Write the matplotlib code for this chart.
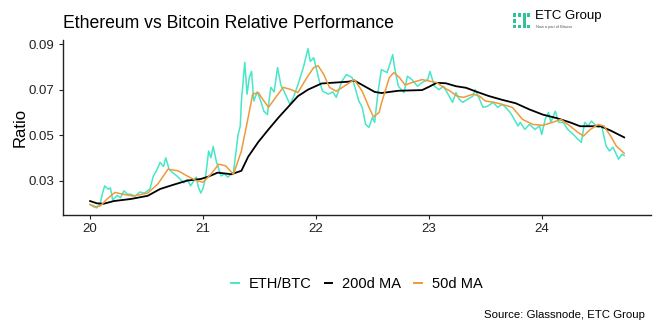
import matplotlib
matplotlib.use("Agg")
import matplotlib.pyplot as plt
from matplotlib.patches import Rectangle

# ETH/BTC ratio (x = year, 20 = 2020)
eth_x = [20.00, 20.03, 20.06, 20.09, 20.11, 20.13, 20.16, 20.18, 20.20, 20.24, 20.27, 20.30,
         20.33, 20.36, 20.40, 20.44, 20.48, 20.53, 20.56, 20.59, 20.62, 20.65, 20.67, 20.70,
         20.73, 20.77, 20.80, 20.83, 20.86, 20.89, 20.92, 20.94, 20.96, 20.98, 21.00, 21.02,
         21.05, 21.07, 21.09, 21.12, 21.16, 21.19, 21.22, 21.27, 21.29, 21.31, 21.33, 21.34,
         21.37, 21.39, 21.41, 21.43, 21.45, 21.48, 21.50, 21.54, 21.57, 21.60, 21.63, 21.66,
         21.69, 21.72, 21.77, 21.80, 21.84, 21.89, 21.93, 21.95, 21.98, 22.01, 22.03, 22.06,
         22.11, 22.15, 22.18, 22.23, 22.27, 22.32, 22.34, 22.38, 22.41, 22.44, 22.47, 22.50,
         22.52, 22.55, 22.58, 22.63, 22.66, 22.68, 22.70, 22.73, 22.78, 22.81, 22.85, 22.90,
         22.94, 22.99, 23.01, 23.05, 23.09, 23.13, 23.18, 23.21, 23.24, 23.27, 23.30, 23.34,
         23.39, 23.41, 23.45, 23.48, 23.52, 23.57, 23.61, 23.65, 23.68, 23.72, 23.74, 23.79,
         23.81, 23.85, 23.89, 23.94, 23.98, 24.00, 24.03, 24.06, 24.08, 24.12, 24.15, 24.19,
         24.23, 24.28, 24.32, 24.35, 24.38, 24.41, 24.44, 24.47, 24.50, 24.53, 24.55, 24.57,
         24.60, 24.63, 24.66, 24.68, 24.71, 24.73]
eth_y = [0.0195, 0.0185, 0.0180, 0.0200, 0.0245, 0.0277, 0.0262, 0.0268, 0.0215, 0.0235, 0.0225, 0.0255,
         0.0240, 0.0240, 0.0232, 0.0250, 0.0245, 0.0263, 0.0320, 0.0345, 0.0380, 0.0362, 0.0400, 0.0350,
         0.0335, 0.0320, 0.0305, 0.0290, 0.0305, 0.0277, 0.0300, 0.0315, 0.0270, 0.0245, 0.0265, 0.0307,
         0.0430, 0.0400, 0.0450, 0.0380, 0.0320, 0.0330, 0.0315, 0.0337, 0.0420, 0.0500, 0.0540, 0.0650,
         0.0820, 0.0680, 0.0753, 0.0780, 0.0650, 0.0690, 0.0666, 0.0605, 0.0590, 0.0710, 0.0690, 0.0797,
         0.0720, 0.0690, 0.0635, 0.0666, 0.0720, 0.0800, 0.0880, 0.0824, 0.0840, 0.0780, 0.0737, 0.0693,
         0.0680, 0.0690, 0.0666, 0.0737, 0.0766, 0.0753, 0.0720, 0.0650, 0.0622, 0.0547, 0.0534, 0.0578,
         0.0556, 0.0690, 0.0788, 0.0775, 0.0820, 0.0854, 0.0788, 0.0715, 0.0687, 0.0759, 0.0744, 0.0715,
         0.0731, 0.0744, 0.0780, 0.0715, 0.0700, 0.0715, 0.0671, 0.0644, 0.0687, 0.0657, 0.0644, 0.0657,
         0.0671, 0.0700, 0.0657, 0.0622, 0.0627, 0.0644, 0.0622, 0.0635, 0.0622, 0.0600, 0.0584, 0.0540,
         0.0556, 0.0525, 0.0547, 0.0525, 0.0540, 0.0503, 0.0569, 0.0600, 0.0556, 0.0605, 0.0556, 0.0556,
         0.0525, 0.0503, 0.0482, 0.0468, 0.0556, 0.0540, 0.0562, 0.0547, 0.0534, 0.0540, 0.0496, 0.0452,
         0.0430, 0.0447, 0.0416, 0.0394, 0.0416, 0.0410]

# 200-day moving average
ma200_x = [20.00, 20.06, 20.12, 20.21, 20.36, 20.51, 20.62, 20.74, 20.86, 20.98, 21.05, 21.13,
           21.25, 21.34, 21.40, 21.49, 21.58, 21.67, 21.76, 21.84, 21.93, 22.05, 22.17, 22.29,
           22.34, 22.43, 22.52, 22.58, 22.73, 22.94, 23.00, 23.07, 23.15, 23.24, 23.33, 23.41,
           23.53, 23.65, 23.77, 23.89, 24.01, 24.13, 24.25, 24.34, 24.52, 24.61, 24.73]
ma200_y = [0.0210, 0.0200, 0.0198, 0.0210, 0.0219, 0.0233, 0.0263, 0.0282, 0.0300, 0.0307, 0.0318, 0.0335,
           0.0328, 0.0343, 0.0405, 0.0470, 0.0525, 0.0578, 0.0627, 0.0671, 0.0700, 0.0727, 0.0731, 0.0735,
           0.0740, 0.0715, 0.0690, 0.0685, 0.0695, 0.0698, 0.0712, 0.0730, 0.0728, 0.0715, 0.0708, 0.0693,
           0.0672, 0.0655, 0.0640, 0.0613, 0.0590, 0.0575, 0.0556, 0.0539, 0.0539, 0.0520, 0.0490]

# 50-day moving average
ma50_x = [20.00, 20.05, 20.09, 20.15, 20.22, 20.29, 20.38, 20.51, 20.60, 20.69, 20.78, 20.86,
          20.94, 21.00, 21.07, 21.14, 21.20, 21.27, 21.34, 21.40, 21.44, 21.49, 21.53, 21.58,
          21.63, 21.71, 21.78, 21.84, 21.92, 21.98, 22.02, 22.07, 22.12, 22.18, 22.25, 22.34,
          22.41, 22.47, 22.51, 22.56, 22.58, 22.65, 22.69, 22.74, 22.79, 22.85, 22.94, 23.01,
          23.07, 23.13, 23.19, 23.25, 23.31, 23.39, 23.45, 23.50, 23.58, 23.65, 23.74, 23.83,
          23.92, 24.01, 24.10, 24.17, 24.25, 24.32, 24.37, 24.43, 24.50, 24.55, 24.61, 24.66,
          24.73]
ma50_y = [0.0195, 0.0185, 0.0188, 0.0219, 0.0248, 0.0240, 0.0232, 0.0245, 0.0285, 0.0350, 0.0343, 0.0320,
          0.0300, 0.0293, 0.0328, 0.0372, 0.0365, 0.0328, 0.0430, 0.0578, 0.0680, 0.0687, 0.0657, 0.0622,
          0.0657, 0.0710, 0.0700, 0.0687, 0.0753, 0.0797, 0.0805, 0.0766, 0.0710, 0.0693, 0.0715, 0.0744,
          0.0693, 0.0622, 0.0580, 0.0600, 0.0640, 0.0753, 0.0775, 0.0753, 0.0720, 0.0731, 0.0744, 0.0737,
          0.0731, 0.0710, 0.0693, 0.0671, 0.0666, 0.0680, 0.0671, 0.0650, 0.0644, 0.0635, 0.0622, 0.0569,
          0.0547, 0.0543, 0.0557, 0.0569, 0.0540, 0.0512, 0.0496, 0.0525, 0.0547, 0.0540, 0.0496, 0.0452,
          0.0420]

x_ticks = [20, 21, 22, 23, 24]
y_ticks = [0.03, 0.05, 0.07, 0.09]

plt.rcParams['font.family'] = ['Liberation Sans', 'DejaVu Sans']

fig = plt.figure(figsize=(6.61, 3.31), dpi=100)
ax = fig.add_axes([0.0953, 0.350, 0.890, 0.529])

ax.plot(eth_x, eth_y, color='#48E6C8', linewidth=1.1, label='ETH/BTC')
ax.plot(ma200_x, ma200_y, color='black', linewidth=1.3, label='200d MA')
ax.plot(ma50_x, ma50_y, color='#EE9A3A', linewidth=1.1, label='50d MA')

ax.set_xlim(19.76, 24.97)
ax.set_ylim(0.0148, 0.0918)
ax.set_xticks(x_ticks)
ax.set_xticklabels([str(t) for t in x_ticks])
ax.set_yticks(y_ticks)
ax.set_yticklabels([f'{t:.2f}' for t in y_ticks])
ax.tick_params(axis='both', labelsize=9.5, length=3, width=0.8, colors='#222222', pad=3)
for s in ['top', 'right']:
    ax.spines[s].set_visible(False)
for s in ['left', 'bottom']:
    ax.spines[s].set_linewidth(1.0)
    ax.spines[s].set_color('#222222')
ax.set_ylabel('Ratio', fontsize=12, labelpad=1)

fig.text(0.0953, 0.915, 'Ethereum vs Bitcoin Relative Performance', fontsize=12.7, ha='left', va='baseline')

leg = fig.legend(loc='center', bbox_to_anchor=(0.54, 0.142), ncol=3, frameon=False,
                 fontsize=10.5, handlelength=0.5, handletextpad=0.7, columnspacing=0.9)
for line in leg.get_lines():
    line.set_linewidth(1.4)

fig.text(0.976, 0.040, 'Source: Glassnode, ETC Group', fontsize=8.2, ha='right', va='baseline')

# logo, top right
green = '#2FC39A'
for (lx, ly, lw, lh) in [(0.7765, 0.950, 0.0045, 0.011), (0.7765, 0.932, 0.0045, 0.011),
                         (0.7765, 0.914, 0.0045, 0.011), (0.7835, 0.950, 0.0045, 0.011),
                         (0.7835, 0.914, 0.0045, 0.011), (0.7915, 0.914, 0.0045, 0.047),
                         (0.7975, 0.950, 0.0045, 0.011), (0.7975, 0.914, 0.0045, 0.011)]:
    fig.patches.append(Rectangle((lx, ly), lw, lh, transform=fig.transFigure,
                                 facecolor=green, edgecolor='none'))
fig.text(0.809, 0.943, 'ETC Group', fontsize=9.5, ha='left', va='baseline')
fig.text(0.811, 0.914, 'Now a part of Bitwise', fontsize=2.8, ha='left', va='baseline', color='#555555')

fig.savefig('out.png', dpi=100, facecolor='white')
